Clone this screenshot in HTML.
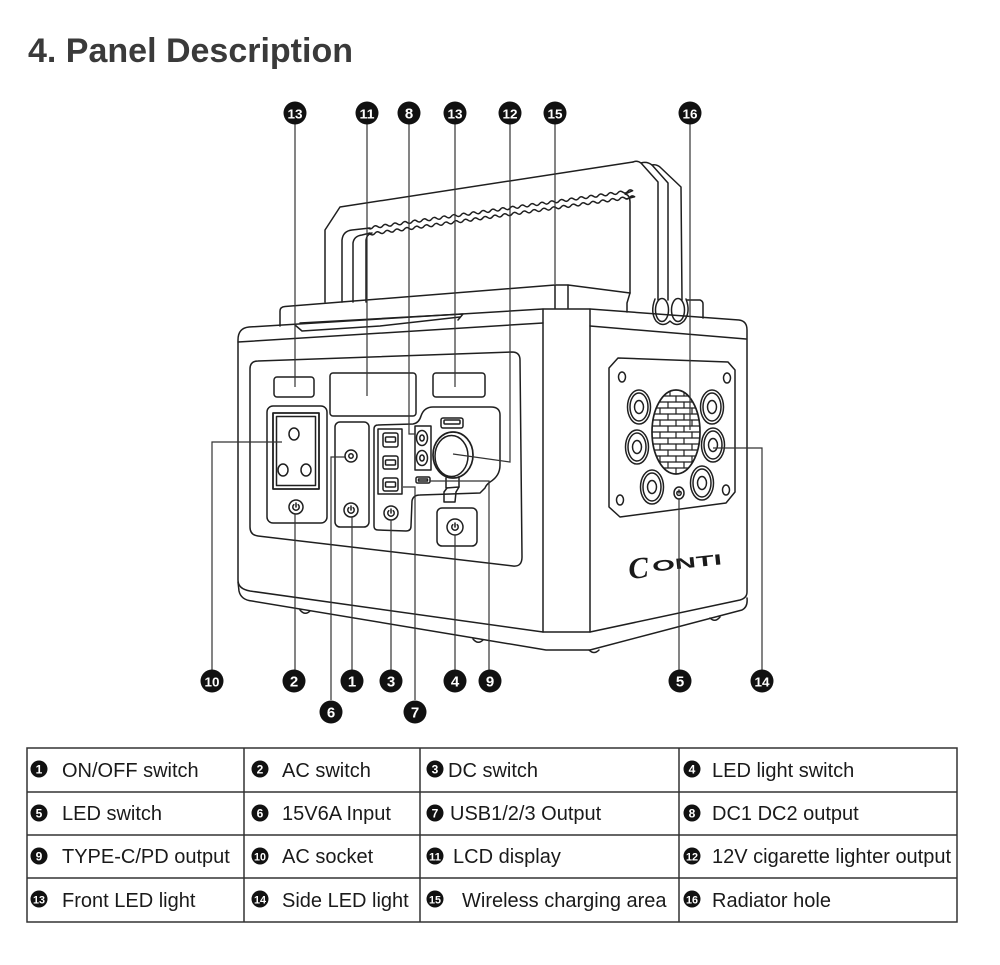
<!DOCTYPE html>
<html><head><meta charset="utf-8">
<style>
html,body{margin:0;padding:0;background:#fff;}
body{width:1000px;height:965px;overflow:hidden;}
svg{display:block;font-family:"Liberation Sans",Arial,sans-serif;}
</style></head>
<body>
<svg width="1000" height="965" viewBox="0 0 1000 965" xmlns="http://www.w3.org/2000/svg">
<defs>
<clipPath id="gc"><ellipse cx="676" cy="432" rx="24" ry="42"/></clipPath>
</defs>
<rect width="1000" height="965" fill="#fff"/>
<text x="28" y="62" font-size="34" font-weight="bold" fill="#3a3a3a">4. Panel Description</text>

<g fill="none" stroke="#1f1f1f" stroke-width="1.5" stroke-linejoin="round" stroke-linecap="round">
<!-- handle -->
<path d="M325,302 L325,230 L340,207 L633,162"/>
<path d="M633,162 Q637,160 641,163 L658,182 L658,300"/>
<path d="M641,163 Q647,161 652,165 L668,183 L668,300"/>
<path d="M652,165 Q657,164 661,168 L681,187 L682,300"/>
<path d="M342,302 L342,240 Q343,231 352,230 L370,228"/>
<path d="M353,302 L353,243 Q354,236 362,235 L370,233"/>
<path d="M366,302 L366,240 Q367,234 372,233"/>
<path d="M368,228 q2.8,2.13 4.9,-0.69 q2.1,-2.83 4.9,-0.69 q2.8,2.13 4.9,-0.69 q2.1,-2.83 4.9,-0.69 q2.8,2.13 4.9,-0.69 q2.1,-2.83 4.9,-0.69 q2.8,2.13 4.9,-0.69 q2.1,-2.83 4.9,-0.69 q2.8,2.13 4.9,-0.69 q2.1,-2.83 4.9,-0.69 q2.8,2.13 4.9,-0.69 q2.1,-2.83 4.9,-0.69 q2.8,2.13 4.9,-0.69 q2.1,-2.83 4.9,-0.69 q2.8,2.13 4.9,-0.69 q2.1,-2.83 4.9,-0.69 q2.8,2.13 4.9,-0.69 q2.1,-2.83 4.9,-0.69 q2.8,2.13 4.9,-0.69 q2.1,-2.83 4.9,-0.69 q2.8,2.13 4.9,-0.69 q2.1,-2.83 4.9,-0.69 q2.8,2.13 4.9,-0.69 q2.1,-2.83 4.9,-0.69 q2.8,2.13 4.9,-0.69 q2.1,-2.83 4.9,-0.69 q2.8,2.13 4.9,-0.69 q2.1,-2.83 4.9,-0.69 q2.8,2.13 4.9,-0.69 q2.1,-2.83 4.9,-0.69 q2.8,2.13 4.9,-0.69 q2.1,-2.83 4.9,-0.69 q2.8,2.13 4.9,-0.69 q2.1,-2.83 4.9,-0.69 q2.8,2.13 4.9,-0.69 q2.1,-2.83 4.9,-0.69 q2.8,2.13 4.9,-0.69 q2.1,-2.83 4.9,-0.69 q2.8,2.13 4.9,-0.69 q2.1,-2.83 4.9,-0.69 q2.8,2.13 4.9,-0.69 q2.1,-2.83 4.9,-0.69 q2.8,2.13 4.9,-0.69 q2.1,-2.83 4.9,-0.69 q2.8,2.13 4.9,-0.69 q2.1,-2.83 4.9,-0.69 q2.8,2.13 4.9,-0.69 q2.1,-2.83 4.9,-0.69 q2.8,2.13 4.9,-0.69 q2.1,-2.83 4.9,-0.69 q2.8,2.13 4.9,-0.69 q2.1,-2.83 4.9,-0.69 q2.8,2.13 4.9,-0.69 q2.1,-2.83 4.9,-0.69 L625,194 Q630,195 630,202 L630,293"/>
<path d="M370,234 q2.8,2.13 4.9,-0.69 q2.1,-2.83 4.9,-0.69 q2.8,2.13 4.9,-0.69 q2.1,-2.83 4.9,-0.69 q2.8,2.13 4.9,-0.69 q2.1,-2.83 4.9,-0.69 q2.8,2.13 4.9,-0.69 q2.1,-2.83 4.9,-0.69 q2.8,2.13 4.9,-0.69 q2.1,-2.83 4.9,-0.69 q2.8,2.13 4.9,-0.69 q2.1,-2.83 4.9,-0.69 q2.8,2.13 4.9,-0.69 q2.1,-2.83 4.9,-0.69 q2.8,2.13 4.9,-0.69 q2.1,-2.83 4.9,-0.69 q2.8,2.13 4.9,-0.69 q2.1,-2.83 4.9,-0.69 q2.8,2.13 4.9,-0.69 q2.1,-2.83 4.9,-0.69 q2.8,2.13 4.9,-0.69 q2.1,-2.83 4.9,-0.69 q2.8,2.13 4.9,-0.69 q2.1,-2.83 4.9,-0.69 q2.8,2.13 4.9,-0.69 q2.1,-2.83 4.9,-0.69 q2.8,2.13 4.9,-0.69 q2.1,-2.83 4.9,-0.69 q2.8,2.13 4.9,-0.69 q2.1,-2.83 4.9,-0.69 q2.8,2.13 4.9,-0.69 q2.1,-2.83 4.9,-0.69 q2.8,2.13 4.9,-0.69 q2.1,-2.83 4.9,-0.69 q2.8,2.13 4.9,-0.69 q2.1,-2.83 4.9,-0.69 q2.8,2.13 4.9,-0.69 q2.1,-2.83 4.9,-0.69 q2.8,2.13 4.9,-0.69 q2.1,-2.83 4.9,-0.69 q2.8,2.13 4.9,-0.69 q2.1,-2.83 4.9,-0.69 q2.8,2.13 4.9,-0.69 q2.1,-2.83 4.9,-0.69 q2.8,2.13 4.9,-0.69 q2.1,-2.83 4.9,-0.69 q2.8,2.13 4.9,-0.69 q2.1,-2.83 4.9,-0.69 q2.8,2.13 4.9,-0.69 q2.1,-2.83 4.9,-0.69 q2.8,2.13 4.9,-0.69 q2.1,-2.83 4.9,-0.69 q2.8,2.13 4.9,-0.69 q2.1,-2.83 4.9,-0.69 L626,199"/>

<!-- lid -->
<path d="M280,326 L280,311 Q280,307 285,306.5 L555,285 L568,285 L630,293"/>
<path d="M555,285 L555,308"/><path d="M568,285 L568,308"/>
<path d="M630,293 L627,303 L627,312"/>
<path d="M687,300 L700,300 Q703,301 703,304 L703,318"/>
<path d="M655,299 Q650,312 656,321 Q663,328 670,321 Q677,328 684,321 Q691,312 686,299"/>
<ellipse cx="662" cy="310" rx="6.5" ry="11.5"/>
<ellipse cx="678" cy="310" rx="6.5" ry="11.5"/>
<path d="M295,325 L302,331 L380,326 L460,317"/>
<path d="M300,323 L463,314 L458,320"/>

<!-- body -->
<path d="M238,340 Q238,328 249,327 L543,309 L590,309 L739,320 Q747,321 747,330 L747,592 Q747,598 740,600 L590,632 L543,632 L250,591 Q238,589 238,580 Z"/>
<path d="M238,342 L543,323"/>
<path d="M590,326 L746,339"/>
<path d="M543,309 L543,632"/><path d="M590,309 L590,632"/>
<path d="M238,582 L239,591 Q241,600 252,601 L546,650 L590,650 L742,610 Q748,607 747,598"/>
<path d="M300,610 Q305,616 310,611"/>
<path d="M473,639 Q478,645 483,640"/>
<path d="M589,650 Q594,655 599,650"/>
<path d="M710,618 Q715,623 720,617"/>

<!-- front panel -->
<path d="M258,361 L512,352 Q520,352 520,360 L522,557 Q522,567 513,566 L258,536 Q250,535 250,527 L250,369 Q250,361 258,361 Z"/>
<rect x="274" y="377" width="40" height="20" rx="3"/>
<rect x="330" y="373" width="86" height="43" rx="3"/>
<rect x="433" y="373" width="52" height="24" rx="3"/>
<!-- AC group -->
<rect x="267" y="406" width="60" height="117" rx="6"/>
<rect x="273" y="413" width="46" height="76" stroke-width="1.8"/>
<rect x="276.5" y="416.5" width="39" height="69"/>
<ellipse cx="294" cy="434" rx="5" ry="6"/>
<ellipse cx="283" cy="470" rx="5" ry="6"/>
<ellipse cx="306" cy="470" rx="5" ry="6"/>
<!-- input group -->
<rect x="335" y="422" width="34" height="105" rx="5"/>
<circle cx="351" cy="456" r="6"/><circle cx="351" cy="456" r="2.2"/>
<!-- USB/DC group -->
<path d="M378,530 Q374,530 374,526 L374,429 Q374,425 378,425 L413,424 Q419,423 421,416 Q424,407 433,407 L491,407 Q500,407 500,415 L500,465 Q500,476 490,482 Q486,485 485,488 L480,493 L420,495 Q413,495 412,501 L411,526 Q411,531 406,531 Z"/>
<rect x="378" y="429" width="24" height="65"/>
<rect x="383" y="433" width="15" height="14" rx="2"/><rect x="385.5" y="437" width="10" height="5" rx="1"/>
<rect x="383" y="456" width="15" height="13" rx="2"/><rect x="385.5" y="460" width="10" height="5" rx="1"/>
<rect x="383" y="478" width="15" height="13" rx="2"/><rect x="385.5" y="482" width="10" height="5" rx="1"/>
<rect x="415" y="426" width="16" height="44"/>
<ellipse cx="422" cy="438" rx="5.5" ry="7.5"/><ellipse cx="422" cy="438" rx="2.2" ry="3"/>
<ellipse cx="422" cy="458" rx="5.5" ry="7.5"/><ellipse cx="422" cy="458" rx="2.2" ry="3"/>
<ellipse cx="453" cy="455" rx="20" ry="23" stroke-width="1.7"/>
<ellipse cx="451.5" cy="456" rx="16.5" ry="20.5"/>
<rect x="441" y="418" width="22" height="10" rx="2"/><rect x="444" y="420" width="16" height="4" rx="1"/>
<rect x="416" y="477" width="14" height="6" rx="1.5"/><rect x="418.5" y="479" width="9" height="2"/>
<path d="M446,478 L446,488 L459,487 L459,478"/>
<path d="M447,488 L444,492 L444,502 L455,502 L456,492 L459,487"/>
<!-- LED switch -->
<rect x="437" y="508" width="40" height="38" rx="5"/>

<!-- side plate -->
<path d="M618,358 L728,362 L735,370 L735,492 L726,503 L620,517 L609,507 L609,368 Z"/>
<ellipse cx="622" cy="377" rx="3.5" ry="5"/>
<ellipse cx="727" cy="378" rx="3.5" ry="5"/>
<ellipse cx="620" cy="500" rx="3.5" ry="5"/>
<ellipse cx="726" cy="490" rx="3.5" ry="5"/>
<ellipse cx="676" cy="432" rx="24" ry="42" stroke-width="1.7"/>
<g clip-path="url(#gc)" stroke-width="1.2">
<path d="M640,396 H712 M640,402 H712 M640,408 H712 M640,414 H712 M640,420 H712 M640,426 H712 M640,432 H712 M640,438 H712 M640,444 H712 M640,450 H712 M640,456 H712 M640,462 H712 M640,468 H712"/>
<path d="M670,390 V396 M684,390 V396 M660,396 V402 M676,396 V402 M692,396 V402 M668,402 V408 M684,402 V408 M660,408 V414 M676,408 V414 M692,408 V414 M668,414 V420 M684,414 V420 M660,420 V426 M676,420 V426 M692,420 V426 M668,426 V432 M684,426 V432 M660,432 V438 M676,432 V438 M692,432 V438 M668,438 V444 M684,438 V444 M660,444 V450 M676,444 V450 M692,444 V450 M668,450 V456 M684,450 V456 M660,456 V462 M676,456 V462 M692,456 V462 M668,462 V468 M684,462 V468 M676,468 V474"/>
</g>
<g stroke-width="1.5">
<ellipse cx="639" cy="407" rx="11.5" ry="17"/><ellipse cx="639" cy="407" rx="9" ry="14"/><ellipse cx="639" cy="407" rx="4.5" ry="6.5"/>
<ellipse cx="712" cy="407" rx="11.5" ry="17"/><ellipse cx="712" cy="407" rx="9" ry="14"/><ellipse cx="712" cy="407" rx="4.5" ry="6.5"/>
<ellipse cx="637" cy="447" rx="11.5" ry="17"/><ellipse cx="637" cy="447" rx="9" ry="14"/><ellipse cx="637" cy="447" rx="4.5" ry="6.5"/>
<ellipse cx="713" cy="445" rx="11.5" ry="17"/><ellipse cx="713" cy="445" rx="9" ry="14"/><ellipse cx="713" cy="445" rx="4.5" ry="6.5"/>
<ellipse cx="652" cy="487" rx="11.5" ry="17"/><ellipse cx="652" cy="487" rx="9" ry="14"/><ellipse cx="652" cy="487" rx="4.5" ry="6.5"/>
<ellipse cx="702" cy="483" rx="11.5" ry="17"/><ellipse cx="702" cy="483" rx="9" ry="14"/><ellipse cx="702" cy="483" rx="4.5" ry="6.5"/>
</g>

<!-- power buttons -->
<g>
<circle cx="296" cy="507" r="7"/><path d="M293.8,504.7 A3.2,3.2 0 1 0 298.2,504.7 M296,503 V507"/>
<circle cx="351" cy="510" r="7"/><path d="M348.8,507.7 A3.2,3.2 0 1 0 353.2,507.7 M351,506 V510"/>
<circle cx="391" cy="513" r="7"/><path d="M388.8,510.7 A3.2,3.2 0 1 0 393.2,510.7 M391,509 V513"/>
<circle cx="455" cy="527" r="8"/><path d="M452.8,524.7 A3.2,3.2 0 1 0 457.2,524.7 M455,523 V527"/>
<ellipse cx="679" cy="493" rx="5" ry="6"/><path d="M677.6,491.5 A2.2,2.2 0 1 0 680.4,491.5 M679,490 V493"/>
</g>
</g>

<!-- CONTI logo -->
<g transform="rotate(-6 677 563)" fill="#1a1a1a">
<text x="628" y="574" font-size="30" font-style="italic" font-weight="bold" font-family="Liberation Serif,serif">C</text>
<text x="652" y="569" font-size="15" font-weight="bold" textLength="70" lengthAdjust="spacingAndGlyphs">ONTI</text>
</g>

<!-- callout lines -->
<g fill="none" stroke="#333" stroke-width="1.2">
<path d="M295,124 V387"/>
<path d="M367,124 V396"/>
<path d="M409,124 V434 H415"/>
<path d="M455,124 V387"/>
<path d="M510,124 V462 L453,454"/>
<path d="M555,124 V284"/>
<path d="M690,124 V430"/>
<path d="M212,670 V442 H282"/>
<path d="M295,670 V514"/>
<path d="M331,700 V457 H345"/>
<path d="M352,670 V517"/>
<path d="M391,670 V520"/>
<path d="M415,700 V487 H403"/>
<path d="M455,670 V535"/>
<path d="M489,670 V481 H430"/>
<path d="M679,670 V499"/>
<path d="M762,670 V448 H713"/>
</g>

<!-- callout circles -->
<g fill="#111">
<circle cx="295" cy="113" r="11.5"/><circle cx="367" cy="113" r="11.5"/><circle cx="409" cy="113" r="11.5"/>
<circle cx="455" cy="113" r="11.5"/><circle cx="510" cy="113" r="11.5"/><circle cx="555" cy="113" r="11.5"/>
<circle cx="690" cy="113" r="11.5"/>
<circle cx="212" cy="681" r="11.5"/><circle cx="294" cy="681" r="11.5"/><circle cx="352" cy="681" r="11.5"/>
<circle cx="391" cy="681" r="11.5"/><circle cx="455" cy="681" r="11.5"/><circle cx="490" cy="681" r="11.5"/>
<circle cx="680" cy="681" r="11.5"/><circle cx="762" cy="681" r="11.5"/>
<circle cx="331" cy="712" r="11.5"/><circle cx="415" cy="712" r="11.5"/>
</g>
<g fill="#fff" font-weight="bold" text-anchor="middle" font-size="15">
<text x="295" y="118.5" font-size="13" textLength="15" lengthAdjust="spacingAndGlyphs">13</text>
<text x="367" y="118.5" font-size="13" textLength="15" lengthAdjust="spacingAndGlyphs">11</text>
<text x="409" y="118.5">8</text>
<text x="455" y="118.5" font-size="13" textLength="15" lengthAdjust="spacingAndGlyphs">13</text>
<text x="510" y="118.5" font-size="13" textLength="15" lengthAdjust="spacingAndGlyphs">12</text>
<text x="555" y="118.5" font-size="13" textLength="15" lengthAdjust="spacingAndGlyphs">15</text>
<text x="690" y="118.5" font-size="13" textLength="15" lengthAdjust="spacingAndGlyphs">16</text>
<text x="212" y="686.5" font-size="13" textLength="15" lengthAdjust="spacingAndGlyphs">10</text>
<text x="294" y="686.5">2</text>
<text x="352" y="686.5">1</text>
<text x="391" y="686.5">3</text>
<text x="455" y="686.5">4</text>
<text x="490" y="686.5">9</text>
<text x="680" y="686.5">5</text>
<text x="762" y="686.5" font-size="13" textLength="15" lengthAdjust="spacingAndGlyphs">14</text>
<text x="331" y="717.5">6</text>
<text x="415" y="717.5">7</text>
</g>

<!-- table -->
<g fill="none" stroke="#333" stroke-width="1.5">
<rect x="27" y="748" width="930" height="174"/>
<path d="M27,792 H957 M27,835 H957 M27,878 H957"/>
<path d="M244,748 V922 M420,748 V922 M679,748 V922"/>
</g>
<g fill="#111">
<circle cx="39" cy="769" r="8.5"/><circle cx="260" cy="769" r="8.5"/><circle cx="435" cy="769" r="8.5"/><circle cx="692" cy="769" r="8.5"/>
<circle cx="39" cy="813" r="8.5"/><circle cx="260" cy="813" r="8.5"/><circle cx="435" cy="813" r="8.5"/><circle cx="692" cy="813" r="8.5"/>
<circle cx="39" cy="856" r="8.5"/><circle cx="260" cy="856" r="8.5"/><circle cx="435" cy="856" r="8.5"/><circle cx="692" cy="856" r="8.5"/>
<circle cx="39" cy="899" r="8.5"/><circle cx="260" cy="899" r="8.5"/><circle cx="435" cy="899" r="8.5"/><circle cx="692" cy="899" r="8.5"/>
</g>
<g fill="#fff" font-weight="bold" text-anchor="middle" font-size="12">
<text x="39" y="773.5">1</text><text x="260" y="773.5">2</text><text x="435" y="773.5">3</text><text x="692" y="773.5">4</text>
<text x="39" y="817.5">5</text><text x="260" y="817.5">6</text><text x="435" y="817.5">7</text><text x="692" y="817.5">8</text>
<text x="39" y="860.5">9</text>
<text x="260" y="860.5" font-size="11" textLength="12" lengthAdjust="spacingAndGlyphs">10</text>
<text x="435" y="860.5" font-size="11" textLength="12" lengthAdjust="spacingAndGlyphs">11</text>
<text x="692" y="860.5" font-size="11" textLength="12" lengthAdjust="spacingAndGlyphs">12</text>
<text x="39" y="903.5" font-size="11" textLength="12" lengthAdjust="spacingAndGlyphs">13</text>
<text x="260" y="903.5" font-size="11" textLength="12" lengthAdjust="spacingAndGlyphs">14</text>
<text x="435" y="903.5" font-size="11" textLength="12" lengthAdjust="spacingAndGlyphs">15</text>
<text x="692" y="903.5" font-size="11" textLength="12" lengthAdjust="spacingAndGlyphs">16</text>
</g>
<g fill="#1a1a1a" font-size="20">
<text x="62" y="777">ON/OFF switch</text>
<text x="282" y="777">AC switch</text>
<text x="448" y="777">DC switch</text>
<text x="712" y="777">LED light switch</text>
<text x="62" y="820">LED switch</text>
<text x="282" y="820">15V6A Input</text>
<text x="450" y="820">USB1/2/3 Output</text>
<text x="712" y="820">DC1 DC2 output</text>
<text x="62" y="863">TYPE-C/PD output</text>
<text x="282" y="863">AC socket</text>
<text x="453" y="863">LCD display</text>
<text x="712" y="863">12V cigarette lighter output</text>
<text x="62" y="907">Front LED light</text>
<text x="282" y="907">Side LED light</text>
<text x="462" y="907">Wireless charging area</text>
<text x="712" y="907">Radiator hole</text>
</g>
</svg>
</body></html>
